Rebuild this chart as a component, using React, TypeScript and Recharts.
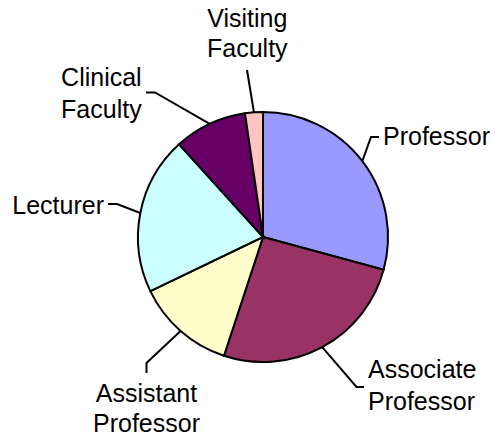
import React from "react";
import { PieChart, Pie, Cell } from "recharts";

const categories = [
  "Professor",
  "Associate Professor",
  "Assistant Professor",
  "Lecturer",
  "Clinical Faculty",
  "Visiting Faculty",
];
const shares = [29.2, 25.8, 12.8, 20.4, 9.4, 2.3];
const labelLines = [
  ["Professor"],
  ["Associate", "Professor"],
  ["Assistant", "Professor"],
  ["Lecturer"],
  ["Clinical", "Faculty"],
  ["Visiting", "Faculty"],
];
const colors = ["#9999FF", "#993366", "#FFFFCC", "#CCFFFF", "#660066", "#FFC4C4"];

const data = categories.map((name, i) => ({ name, value: shares[i] }));

// label layout: leader-line elbow / end and text anchor, relative to pie centre
const layout = [
  { elbow: [108, -100], end: [116, -100], tx: 120, anchor: "start", base: [-92] },
  { elbow: [93.5, 150], end: [101, 150], tx: 105, anchor: "start", base: [141.3, 173] },
  { elbow: [-116.5, 126], end: [-116.5, 136], tx: -116.5, anchor: "middle", base: [164.7, 194.7] },
  { elbow: [-146, -33], end: [-155, -33], tx: -159, anchor: "end", base: [-22.7] },
  { elbow: [-108, -144.5], end: [-117, -144.5], tx: -121.3, anchor: "end", base: [-151, -119.3] },
  { elbow: [-16, -167], end: [-16, -167], tx: -15.7, anchor: "middle", base: [-210.3, -180.3] },
];

const RAD = Math.PI / 180;

const renderLabel = (props: any) => {
  const { cx, cy, midAngle, outerRadius, index } = props;
  const l = layout[index];
  const sx = cx + outerRadius * Math.cos(-midAngle * RAD);
  const sy = cy + outerRadius * Math.sin(-midAngle * RAD);
  const d = `M${sx},${sy} L${cx + l.elbow[0]},${cy + l.elbow[1]} L${cx + l.end[0]},${cy + l.end[1]}`;
  return (
    <g key={`lbl-${index}`}>
      <path d={d} stroke="#000" strokeWidth={2} fill="none" />
      {labelLines[index].map((t, j) => (
        <text
          key={j}
          x={cx + l.tx}
          y={cy + l.base[j]}
          textAnchor={l.anchor as any}
          fontFamily="'Liberation Sans', Arial, sans-serif"
          fontSize={25}
          fill="#000"
        >
          {t}
        </text>
      ))}
    </g>
  );
};

export default function App() {
  return (
    <div style={{ position: "absolute", left: 0, top: 0, width: 495, height: 437, background: "#fff" }}>
      <PieChart width={495} height={437} margin={{ top: 0, right: 0, bottom: 0, left: 0 }}>
        <Pie
          data={data}
          dataKey="value"
          nameKey="name"
          cx={263}
          cy={237}
          outerRadius={125}
          startAngle={90}
          endAngle={-270}
          stroke="#000"
          strokeWidth={2}
          isAnimationActive={false}
          label={renderLabel}
          labelLine={false}
        >
          {data.map((d, i) => (
            <Cell key={d.name} fill={colors[i]} />
          ))}
        </Pie>
      </PieChart>
    </div>
  );
}
